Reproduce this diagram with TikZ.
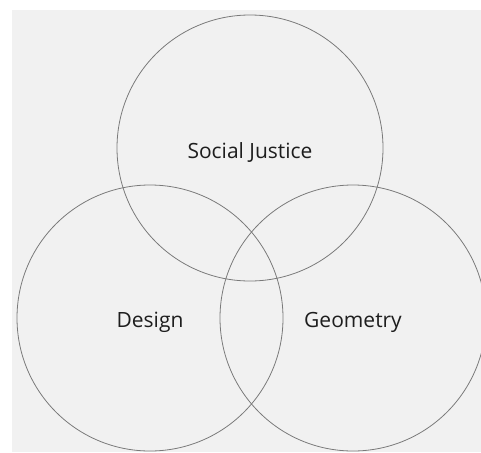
\documentclass[tikz,border=0pt]{standalone}
\usepackage{fontspec}
\setmainfont{Open Sans}
\definecolor{bgfill}{HTML}{F1F1F1}
\definecolor{ringline}{HTML}{7A7A7A}
\definecolor{labeltext}{HTML}{1E1E1E}
\tikzset{
  ring/.style={circle, draw=ringline, line width=0.8pt, minimum size=266pt, inner sep=0pt},
  setlabel/.style={text=labeltext, font=\fontsize{21}{25}\selectfont, inner sep=0pt}
}
\begin{document}
\begin{tikzpicture}[x=1pt,y=-1pt]
\useasboundingbox (0,0) rectangle (481,452);
\clip (0,0) rectangle (481,452);
\fill[bgfill] (12,10) rectangle (481,452);
\node[ring] (top) at (250,148) {};
\node[ring] (left) at (150,318) {};
\node[ring] (right) at (353,318) {};
\node[setlabel] (sj) at (250,152) {Social Justice};
\node[setlabel] (de) at (150,322) {Design};
\node[setlabel] (ge) at (353,322) {Geometry};
\end{tikzpicture}
\end{document}
